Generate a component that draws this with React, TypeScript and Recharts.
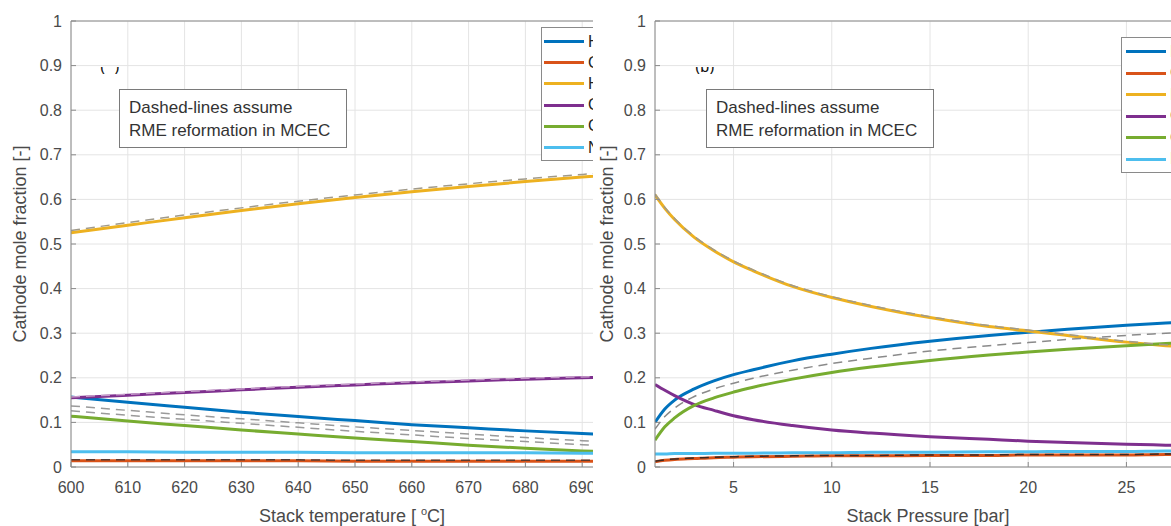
import React from 'react';
import { LineChart, Line, XAxis, YAxis, CartesianGrid, ReferenceLine, Legend } from 'recharts';

const FONT = '"Liberation Sans", Arial, Helvetica, sans-serif';

// ---------- species (legend) ----------
const speciesKeys = ['H2', 'CH4', 'H2O', 'CO2', 'CO', 'N2'];
const speciesNames = ['H₂', 'CH₄', 'H₂O', 'CO₂', 'CO', 'N₂'];
const speciesColors = ['#0072BD', '#D95319', '#EDB120', '#7E2F8E', '#77AC30', '#4DBEEE'];

// ---------- panel (a): stack temperature ----------
const temperatures = [600, 610, 620, 630, 640, 650, 660, 670, 680, 690, 700];
const tempTicks = [600, 610, 620, 630, 640, 650, 660, 670, 680, 690, 700];
const tH2 = [0.157, 0.145, 0.134, 0.123, 0.113, 0.104, 0.095, 0.088, 0.081, 0.075, 0.070];
const tCH4 = [0.014, 0.014, 0.014, 0.014, 0.014, 0.013, 0.013, 0.013, 0.013, 0.013, 0.013];
const tH2O = [0.525, 0.542, 0.559, 0.575, 0.590, 0.604, 0.617, 0.629, 0.640, 0.650, 0.659];
const tCO2 = [0.155, 0.161, 0.167, 0.173, 0.179, 0.184, 0.189, 0.193, 0.197, 0.200, 0.203];
const tCO = [0.114, 0.103, 0.093, 0.083, 0.074, 0.065, 0.057, 0.049, 0.042, 0.036, 0.031];
const tN2 = [0.034, 0.034, 0.033, 0.033, 0.033, 0.032, 0.032, 0.032, 0.032, 0.031, 0.031];
// dashed: RME reformation in MCEC
const tH2Dash = [0.137, 0.127, 0.117, 0.108, 0.099, 0.090, 0.082, 0.074, 0.066, 0.059, 0.053];
const tCODash = [0.126, 0.116, 0.107, 0.098, 0.089, 0.080, 0.072, 0.064, 0.057, 0.050, 0.044];
const tH2ODash = [0.530, 0.548, 0.565, 0.581, 0.596, 0.610, 0.623, 0.635, 0.646, 0.656, 0.665];
const tCO2Dash = [0.157, 0.163, 0.169, 0.175, 0.181, 0.186, 0.191, 0.195, 0.199, 0.202, 0.205];
const tCH4Dash = [0.016, 0.016, 0.016, 0.016, 0.016, 0.015, 0.015, 0.015, 0.015, 0.015, 0.015];

// ---------- panel (b): stack pressure ----------
const pressures = [1, 1.5, 2, 3, 4, 5, 6, 8, 10, 12, 15, 18, 20, 22, 25, 27, 29];
const pressTicks = [5, 10, 15, 20, 25];
const pH2 = [0.100, 0.130, 0.150, 0.175, 0.193, 0.207, 0.218, 0.238, 0.253, 0.266, 0.282, 0.295, 0.302, 0.309, 0.318, 0.323, 0.328];
const pCH4 = [0.012, 0.015, 0.017, 0.019, 0.021, 0.022, 0.023, 0.024, 0.025, 0.025, 0.026, 0.026, 0.027, 0.027, 0.027, 0.028, 0.028];
const pH2O = [0.610, 0.580, 0.555, 0.515, 0.485, 0.460, 0.440, 0.405, 0.380, 0.360, 0.335, 0.315, 0.305, 0.295, 0.280, 0.272, 0.265];
const pCO2 = [0.185, 0.172, 0.160, 0.140, 0.127, 0.115, 0.106, 0.093, 0.083, 0.076, 0.068, 0.062, 0.058, 0.055, 0.051, 0.049, 0.047];
const pCO = [0.060, 0.090, 0.110, 0.138, 0.155, 0.168, 0.179, 0.197, 0.212, 0.224, 0.239, 0.251, 0.258, 0.264, 0.272, 0.277, 0.281];
const pN2 = [0.029, 0.029, 0.030, 0.030, 0.031, 0.031, 0.031, 0.032, 0.032, 0.033, 0.033, 0.034, 0.034, 0.035, 0.035, 0.036, 0.036];
// dashed: RME reformation in MCEC
const pH2Dash = [0.085, 0.113, 0.132, 0.158, 0.175, 0.188, 0.199, 0.217, 0.232, 0.244, 0.260, 0.272, 0.279, 0.286, 0.295, 0.300, 0.305];
const pH2ODash = [0.612, 0.582, 0.557, 0.517, 0.487, 0.462, 0.442, 0.407, 0.382, 0.362, 0.337, 0.317, 0.307, 0.297, 0.282, 0.274, 0.267];
const pCH4Dash = [0.013, 0.016, 0.018, 0.020, 0.022, 0.023, 0.024, 0.025, 0.026, 0.026, 0.027, 0.027, 0.028, 0.028, 0.028, 0.029, 0.029];

const yTicks = [0, 0.1, 0.2, 0.3, 0.4, 0.5, 0.6, 0.7, 0.8, 0.9, 1];

const tempSolid = [tH2, tCH4, tH2O, tCO2, tCO, tN2];
const pressSolid = [pH2, pCH4, pH2O, pCO2, pCO, pN2];

const tempDashed: [string, number[], string][] = [
  ['H2d', tH2Dash, '#9a9a9a'],
  ['COd', tCODash, '#9a9a9a'],
  ['H2Od', tH2ODash, '#a09a8a'],
  ['CO2d', tCO2Dash, '#c49ac8'],
  ['CH4d', tCH4Dash, '#5a3a30'],
];
const pressDashed: [string, number[], string][] = [
  ['H2d', pH2Dash, '#8a8a8a'],
  ['H2Od', pH2ODash, '#a09a8a'],
  ['CH4d', pCH4Dash, '#3a2a25'],
];

function buildRows(xs: number[], solid: number[][], dashed: [string, number[], string][]) {
  return xs.map((x, i) => {
    const row: Record<string, number> = { x };
    speciesKeys.forEach((k, j) => (row[k] = solid[j][i]));
    dashed.forEach(([k, arr]) => (row[k] = arr[i]));
    return row;
  });
}

const tempRows = buildRows(temperatures, tempSolid, tempDashed);
const pressRows = buildRows(pressures, pressSolid, pressDashed);

const AXIS = '#8a8a8a';
const GRID = '#e4e4e4';
const TEXT = '#4a4a4a';

const tickStyle = { fill: TEXT, fontSize: 16, fontFamily: FONT };

const LegendBox = (props: any) => {
  const payload: any[] = props.payload || [];
  // keep the plotting order of the species, not an alphabetical one
  const items = speciesKeys.map((k, j) => {
    const entry = payload.find((p: any) => p.dataKey === k);
    return { key: k, name: speciesNames[j], color: entry ? entry.color : speciesColors[j] };
  });
  return (
    <div
      style={{
        border: `1px solid ${AXIS}`,
        background: '#fff',
        width: 110,
        height: props.boxH,
        boxSizing: 'border-box',
        paddingTop: props.padTop,
        fontFamily: FONT,
        fontSize: 16,
        color: '#222',
      }}
    >
      {items.map((it) => (
        <div key={it.key} style={{ display: 'flex', alignItems: 'center', height: props.rowH, paddingLeft: props.padLeft }}>
          <div style={{ width: 40, height: 3, background: it.color, marginRight: 4 }} />
          <span style={{ lineHeight: '16px' }}>{it.name}</span>
        </div>
      ))}
    </div>
  );
};

const YLabel = (x: number, y: number) => (
  <text
    x={x}
    y={y}
    transform={`rotate(-90 ${x} ${y})`}
    textAnchor="middle"
    dominantBaseline="central"
    fill={TEXT}
    fontSize={18}
    fontFamily={FONT}
  >
    Cathode mole fraction [-]
  </text>
);

const Note = ({ left }: { left: number }) => (
  <div
    style={{
      position: 'absolute',
      left,
      top: 89,
      width: 228,
      height: 59,
      boxSizing: 'border-box',
      border: '1px solid #7a7a7a',
      background: '#fff',
      padding: '6px 0 0 9px',
      fontFamily: FONT,
      fontSize: 17,
      lineHeight: '23px',
      color: '#333',
    }}
  >
    Dashed-lines assume
    <br />
    RME reformation in MCEC
  </div>
);

const PanelTag = ({ left, text }: { left: number; text: string }) => (
  <div style={{ position: 'absolute', left, top: 67, height: 7, overflow: 'hidden', width: 30 }}>
    <div style={{ marginTop: -9, fontFamily: FONT, fontSize: 16, color: '#111', whiteSpace: 'pre' }}>{text}</div>
  </div>
);

function renderLines(dashed: [string, number[], string][]) {
  const solid = speciesKeys.map((k, j) => (
    <Line
      key={k}
      dataKey={k}
      name={speciesNames[j]}
      type="monotone"
      stroke={speciesColors[j]}
      strokeWidth={3}
      dot={false}
      isAnimationActive={false}
    />
  ));
  const dash = dashed.map(([k, , c]) => (
    <Line
      key={k}
      dataKey={k}
      type="monotone"
      stroke={c}
      strokeWidth={1.5}
      strokeDasharray="9 6"
      dot={false}
      legendType="none"
      isAnimationActive={false}
    />
  ));
  return [...solid, ...dash];
}

export default function App() {
  return (
    <div style={{ position: 'fixed', left: 0, top: 0, width: 1171, height: 526, overflow: 'hidden', background: '#fff' }}>
      {/* Panel (a) */}
      <div style={{ position: 'absolute', left: 0, top: 0, width: 593, height: 526, overflow: 'hidden' }}>
        <LineChart width={660} height={526} data={tempRows} margin={{ top: 21, right: 21, bottom: 0, left: 11 }}>
          <CartesianGrid stroke={GRID} />
          <XAxis
            dataKey="x"
            type="number"
            domain={[600, 700]}
            ticks={tempTicks}
            allowDataOverflow
            stroke={AXIS}
            tick={tickStyle}
            tickSize={-5}
            tickMargin={20}
            height={59}
            label={{
              content: (p: any) => {
                const vb = p.viewBox || { x: 71, width: 568 };
                return (
                  <text x={vb.x + vb.width / 2 - 3} y={522} textAnchor="middle" fill={TEXT} fontSize={18} fontFamily={FONT}>
                    Stack temperature [ <tspan dy={-7} fontSize={11}>o</tspan>
                    <tspan dy={7}>C]</tspan>
                  </text>
                );
              },
            }}
          />
          <YAxis
            type="number"
            domain={[0, 1]}
            ticks={yTicks}
            allowDataOverflow
            stroke={AXIS}
            tick={tickStyle}
            tickSize={-5}
            tickMargin={14}
            width={60}
            label={{ content: () => YLabel(20, 244) }}
          />
          <ReferenceLine y={1} stroke={AXIS} />
          {renderLines(tempDashed)}
          <Legend
            layout="vertical"
            align="center"
            verticalAlign="middle"
            wrapperStyle={{ left: 541, top: 27, width: 110 }}
            content={(p: any) => <LegendBox {...p} boxH={134} rowH={21.2} padTop={3} padLeft={2} />}
          />
        </LineChart>
        <Note left={119} />
        <PanelTag left={100} text={'(  )'} />
      </div>

      {/* Panel (b) */}
      <div style={{ position: 'absolute', left: 593, top: 0, width: 578, height: 526, overflow: 'hidden' }}>
        <LineChart width={650} height={526} data={pressRows} margin={{ top: 21, right: 38, bottom: 0, left: 7 }}>
          <CartesianGrid stroke={GRID} />
          <XAxis
            dataKey="x"
            type="number"
            domain={[1, 29]}
            ticks={pressTicks}
            allowDataOverflow
            stroke={AXIS}
            tick={tickStyle}
            tickSize={-5}
            tickMargin={20}
            height={59}
            label={{
              content: (p: any) => {
                const vb = p.viewBox || { x: 62, width: 550 };
                return (
                  <text x={vb.x + vb.width / 2 - 2} y={522} textAnchor="middle" fill={TEXT} fontSize={18} fontFamily={FONT}>
                    Stack Pressure [bar]
                  </text>
                );
              },
            }}
          />
          <YAxis
            type="number"
            domain={[0, 1]}
            ticks={yTicks}
            allowDataOverflow
            stroke={AXIS}
            tick={tickStyle}
            tickSize={-5}
            tickMargin={14}
            width={55}
            label={{ content: () => YLabel(14, 244) }}
          />
          <ReferenceLine y={1} stroke={AXIS} />
          {renderLines(pressDashed)}
          <Legend
            layout="vertical"
            align="center"
            verticalAlign="middle"
            wrapperStyle={{ left: 528, top: 37, width: 110 }}
            content={(p: any) => <LegendBox {...p} boxH={136} rowH={21.5} padTop={3} padLeft={4} />}
          />
        </LineChart>
        <Note left={113} />
        <PanelTag left={102} text={'(b)'} />
      </div>
    </div>
  );
}
